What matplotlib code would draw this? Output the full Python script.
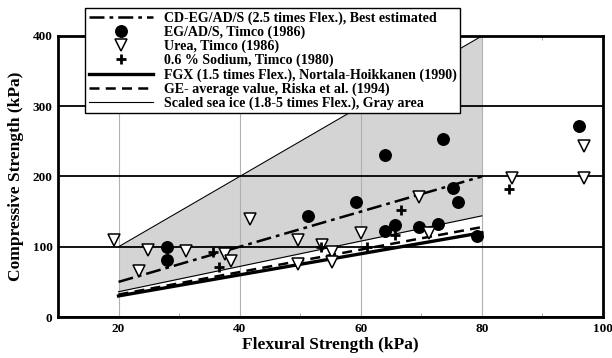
import numpy as np
import matplotlib
matplotlib.use("Agg")
import matplotlib.pyplot as plt
from matplotlib.ticker import MultipleLocator

plt.rcParams["font.family"] = ["Liberation Serif", "DejaVu Serif"]
plt.rcParams["font.weight"] = "bold"

# ── Measured data (kPa) ───────────────────────────────────
eg_flex = [28.0, 28.0, 51.3, 59.2, 64.0, 73.6, 64.0, 65.6, 69.6, 72.8, 75.2, 76.1, 79.2, 96.0]
eg_comp = [99, 81, 144, 163, 231, 254, 123, 131, 128, 133, 183, 163, 116, 272]

urea_flex = [19.2, 24.8, 23.3, 31.2, 37.5, 38.5, 41.7, 49.6, 49.6, 53.6, 55.2,
             55.2, 60.0, 69.6, 71.3, 84.9, 96.9, 96.9]
urea_comp = [110, 96, 66, 94, 90, 80, 140, 110, 76, 103, 93,
             78, 119, 171, 119, 198, 198, 243]

sodium_flex = [35.6, 36.6, 53.4, 61.0, 65.6, 66.7, 84.5]
sodium_comp = [92, 71, 100, 99, 117, 152, 182]

# ── Ratio lines (compressive = k * flexural) ─────────────
flex_range = np.array([20, 80])
k_best = 2.5
k_fgx = 1.5
k_ge = 1.6
k_sea_low, k_sea_high = 1.8, 5.0

fig = plt.figure(figsize=(6.12, 3.58), dpi=100)
ax = fig.add_axes([0.0948, 0.1145, 0.8905, 0.785])

ax.fill_between(flex_range, k_sea_low * flex_range, k_sea_high * flex_range,
                color="#d4d4d4", lw=0, zorder=0.2)
ax.plot(flex_range, k_sea_high * flex_range, color="black", lw=0.8, zorder=2)
sea_line, = ax.plot(flex_range, k_sea_low * flex_range, color="black", lw=0.8, zorder=2)

best_line, = ax.plot(flex_range, k_best * flex_range, color="black", lw=1.8,
                     dashes=(6, 2, 1.5, 2), zorder=3)
fgx_line, = ax.plot(flex_range, k_fgx * flex_range, color="black", lw=2.4, zorder=3)
ge_line, = ax.plot(flex_range, k_ge * flex_range, color="black", lw=1.8,
                   dashes=(4, 2.5), zorder=3)

eg_pts, = ax.plot(eg_flex, eg_comp, "o", color="black", ms=8.3, ls="none", zorder=4)
urea_pts, = ax.plot(urea_flex, urea_comp, "v", mfc="white", mec="black", mew=1.1,
                    ms=8, ls="none", zorder=4)
sodium_pts, = ax.plot(sodium_flex, sodium_comp, "+", color="black", mew=2.0, ms=7,
                      ls="none", zorder=5)

ax.set_xlim(10, 100)
ax.set_ylim(0, 400)
ax.xaxis.set_major_locator(MultipleLocator(20))
ax.xaxis.set_minor_locator(MultipleLocator(10))
ax.yaxis.set_major_locator(MultipleLocator(100))
ax.set_xticks([20, 40, 60, 80, 100])

ax.set_axisbelow(True)
ax.grid(axis="x", which="major", color="#b0b0b0", lw=0.8)
ax.grid(axis="y", which="major", color="black", lw=1.3)
ax.tick_params(axis="both", which="both", direction="in", top=True, length=0, pad=4)
ax.tick_params(axis="x", which="minor", length=3, width=0.6, color="#999999")
ax.tick_params(labelsize=9.5)
for lbl in ax.get_xticklabels() + ax.get_yticklabels():
    lbl.set_fontweight("bold")
for sp in ax.spines.values():
    sp.set_linewidth(2.0)

ax.set_xlabel("Flexural Strength (kPa)", fontsize=12.5, fontweight="bold", labelpad=2)
ax.set_ylabel("Compressive Strength (kPa)", fontsize=12.5, fontweight="bold", labelpad=6)

handles = [best_line, eg_pts, urea_pts, sodium_pts, fgx_line, ge_line, sea_line]
labels = [
    "CD-EG/AD/S (2.5 times Flex.), Best estimated",
    "EG/AD/S, Timco (1986)",
    "Urea, Timco (1986)",
    "0.6 % Sodium, Timco (1980)",
    "FGX (1.5 times Flex.), Nortala-Hoikkanen (1990)",
    "GE- average value, Riska et al. (1994)",
    "Scaled sea ice (1.8-5 times Flex.), Gray area",
]
leg = ax.legend(handles, labels, loc="upper left",
                bbox_to_anchor=(0.139, 0.978), bbox_transform=fig.transFigure,
                prop={"weight": "bold", "size": 10.1}, handlelength=4.6,
                handletextpad=0.75, labelspacing=0.05, borderpad=0.25,
                borderaxespad=0, fancybox=False, framealpha=1,
                edgecolor="black")
leg.get_frame().set_linewidth(1.0)
leg.set_zorder(10)

fig.savefig("out.png", dpi=100)
